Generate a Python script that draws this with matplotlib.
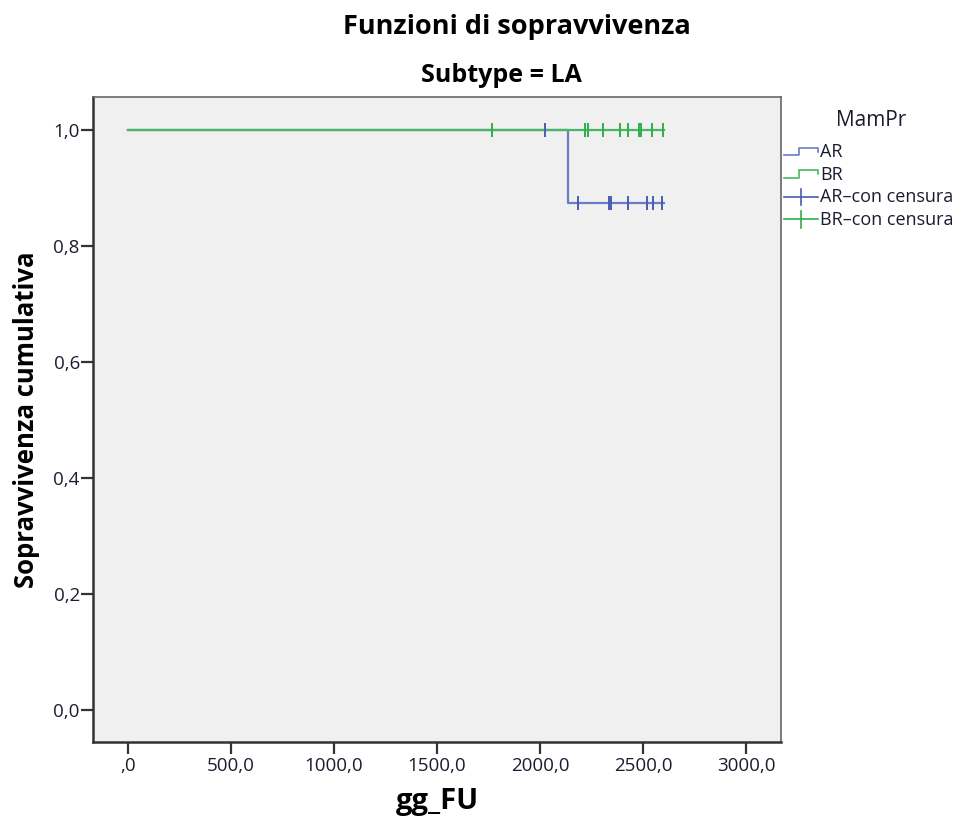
import numpy as np
import matplotlib.pyplot as plt
from matplotlib.legend_handler import HandlerBase
from matplotlib.lines import Line2D

# Survival data
ar_steps_x = [0, 2137, 2137, 2600]
ar_steps_y = [1.0, 1.0, 0.875, 0.875]
ar_cens_x = [2024, 2186, 2335, 2345, 2429, 2518, 2547, 2591]
ar_cens_y = [1.0, 0.875, 0.875, 0.875, 0.875, 0.875, 0.875, 0.875]

br_steps_x = [0, 2600]
br_steps_y = [1.0, 1.0]
br_cens_x = [1765, 2220, 2235, 2304, 2388, 2426, 2480, 2492, 2542, 2599]
br_cens_y = [1.0] * len(br_cens_x)

xticks = [0, 500, 1000, 1500, 2000, 2500, 3000]
xtick_labels = [",0", "500,0", "1000,0", "1500,0", "2000,0", "2500,0", "3000,0"]
yticks = [0.0, 0.2, 0.4, 0.6, 0.8, 1.0]
ytick_labels = ["0,0", "0,2", "0,4", "0,6", "0,8", "1,0"]

blue = "#6a7cc8"
blue_dark = "#4a5cb0"
green = "#45b865"
green_dark = "#2fae4c"
txt = "#1c1c30"

plt.rcParams['font.family'] = ['Open Sans', 'DejaVu Sans']


class HandlerStep(HandlerBase):
    def create_artists(self, legend, orig_handle, xdescent, ydescent,
                       width, height, fontsize, trans):
        x = np.array([0, 0.45, 0.45, 1.0, 1.0]) * width - xdescent
        y = np.array([0.15, 0.15, 0.75, 0.75, 0.4]) * height - ydescent
        ln = Line2D(x, y, color=orig_handle.get_color(), lw=1.2, transform=trans)
        return [ln]


class HandlerCross(HandlerBase):
    def create_artists(self, legend, orig_handle, xdescent, ydescent,
                       width, height, fontsize, trans):
        h = Line2D([-xdescent, width - xdescent], [0.4 * height - ydescent] * 2,
                   color=orig_handle.get_color(), lw=1.2, transform=trans)
        v = Line2D([0.5 * width - xdescent] * 2,
                   [-0.25 * height - ydescent, 1.05 * height - ydescent],
                   color=orig_handle.get_color(), lw=1.2, transform=trans)
        return [h, v]


fig = plt.figure(figsize=(9.62, 8.18), dpi=100)
ax = fig.add_axes([93 / 962, 1 - 742 / 818, (781 - 93) / 962, (742 - 97) / 818])
ax.set_facecolor("#f0f0f0")

ax.plot(ar_steps_x, ar_steps_y, color=blue, lw=1.6)
ax.plot(br_steps_x, br_steps_y, color=green, lw=1.6)
ax.plot(ar_cens_x, ar_cens_y, ls="none", marker="|", ms=9.5, mew=1.4, color=blue_dark)
ax.plot(br_cens_x, br_cens_y, ls="none", marker="|", ms=9.5, mew=1.4, color=green_dark)

ax.set_xlim(-170, 3170)
ax.set_ylim(-0.055, 1.057)
ax.set_xticks(xticks)
ax.set_xticklabels(xtick_labels)
ax.set_yticks(yticks)
ax.set_yticklabels(ytick_labels)
ax.tick_params(axis="both", direction="out", length=8.5, width=1.6, colors="#333333",
               labelcolor=txt, labelsize=13.5)
ax.tick_params(axis="x", pad=2)
ax.tick_params(axis="y", pad=1)
for s in ["left", "bottom"]:
    ax.spines[s].set_color("#333333")
    ax.spines[s].set_linewidth(1.8)
for s in ["top", "right"]:
    ax.spines[s].set_color("#666666")
    ax.spines[s].set_linewidth(1.2)

ax.set_xlabel("gg_FU", fontsize=21, fontweight="bold", labelpad=9, color="black")
ax.set_ylabel("Sopravvivenza cumulativa", fontsize=18.5, fontweight="bold",
              labelpad=10, color="black")

fig.text(517 / 962, 1 - 27 / 818, "Funzioni di sopravvivenza", ha="center", va="center",
         fontsize=19.5, fontweight="bold")
fig.text(501 / 962, 1 - 75 / 818, "Subtype = LA", ha="center", va="center",
         fontsize=18, fontweight="bold")

fig.text(871 / 962, 1 - 121 / 818, "MamPr", ha="center", va="center",
         fontsize=15, color=txt)

handles = [Line2D([], [], color=blue), Line2D([], [], color=green),
           Line2D([], [], color=blue_dark), Line2D([], [], color=green_dark)]
labels = ["AR", "BR", "AR\u2013con censura", "BR\u2013con censura"]
leg = fig.legend(handles, labels, loc="upper left",
                 bbox_to_anchor=(784 / 962, 1 - 143 / 818), frameon=False,
                 fontsize=13, handlelength=1.9, borderpad=0,
                 handletextpad=0.1, labelspacing=0.25, borderaxespad=0,
                 handler_map={handles[0]: HandlerStep(), handles[1]: HandlerStep(),
                              handles[2]: HandlerCross(), handles[3]: HandlerCross()})
for t in leg.get_texts():
    t.set_color(txt)

fig.savefig("out.png", dpi=100)
